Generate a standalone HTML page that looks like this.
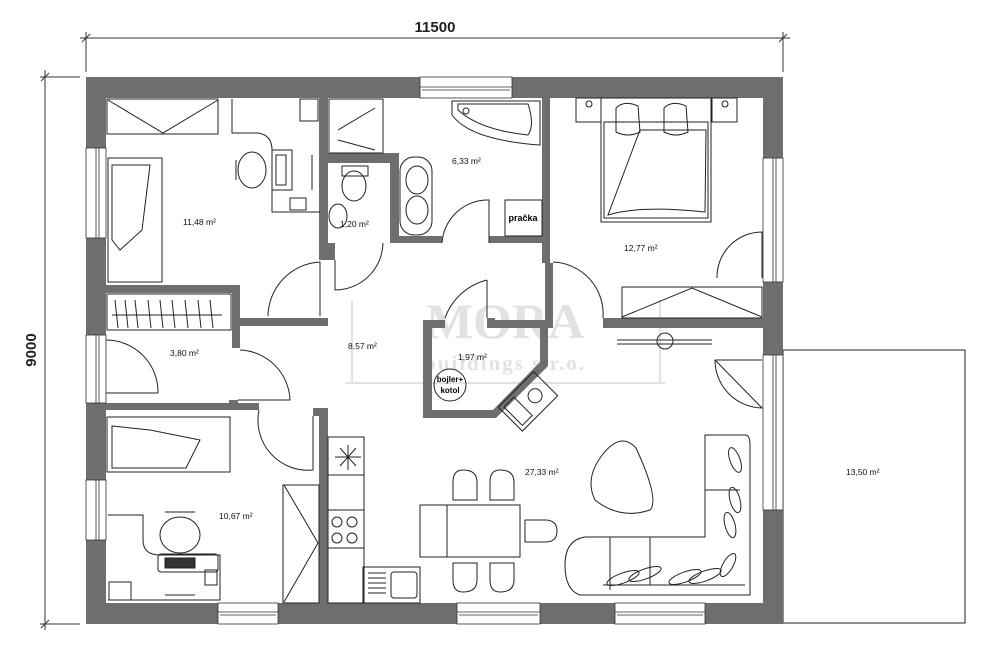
<!DOCTYPE html>
<html><head><meta charset="utf-8"><style>
html,body{margin:0;padding:0;background:#fff;}
svg{display:block;font-family:"Liberation Sans",sans-serif;}
.t{font-size:8.5px;fill:#111;}
.f{fill:none;stroke:#222;stroke-width:1;}
.w{fill:#6e6e6e;}
</style></head><body>
<svg width="1000" height="656" viewBox="0 0 1000 656">
<!-- dimensions -->
<g stroke="#333" stroke-width="1">
<line x1="80" y1="38" x2="790" y2="38"/>
<line x1="86" y1="32" x2="86" y2="72"/><line x1="783" y1="32" x2="783" y2="72"/>
<line x1="82" y1="42" x2="90" y2="34"/><line x1="779" y1="42" x2="787" y2="34"/>
<line x1="45" y1="70" x2="45" y2="630"/>
<line x1="40" y1="77" x2="80" y2="77"/><line x1="40" y1="624" x2="80" y2="624"/>
<line x1="41" y1="81" x2="49" y2="73"/><line x1="41" y1="628" x2="49" y2="620"/>
</g>
<text x="435" y="32" font-size="15" font-weight="bold" text-anchor="middle" fill="#222">11500</text>
<text transform="translate(36,350) rotate(-90)" font-size="15" font-weight="bold" text-anchor="middle" fill="#222">9000</text>
<!-- terrace -->
<rect x="783" y="350" width="182" height="273" class="f"/>
<!-- watermark -->
<g fill="#e2e2e2" stroke="#e2e2e2">
<text x="505" y="338" font-family="Liberation Serif,serif" font-size="50" font-weight="bold" text-anchor="middle" stroke="none">MORA</text>
<text x="505" y="370" font-family="Liberation Serif,serif" font-size="21" font-weight="bold" text-anchor="middle" stroke="none" letter-spacing="2">buildings s.r.o.</text>
<line x1="345" y1="383" x2="665" y2="383" fill="none" stroke-width="2"/>
<line x1="352" y1="300" x2="352" y2="383" fill="none" stroke-width="2"/>
<line x1="660" y1="300" x2="660" y2="383" fill="none" stroke-width="2"/>
</g>
<!-- outer walls -->
<g class="w">
<rect x="86" y="77" width="697" height="21"/>
<rect x="86" y="603" width="697" height="21"/>
<rect x="86" y="77" width="20" height="547"/>
<rect x="763" y="77" width="20" height="547"/>
<!-- interior -->
<rect x="319" y="98" width="9" height="162"/>
<rect x="328" y="153" width="71" height="10"/>
<rect x="390" y="153" width="9" height="90"/>
<rect x="390" y="236" width="52" height="7"/>
<rect x="489" y="236" width="61" height="7"/>
<rect x="542" y="98" width="8" height="165"/>
<rect x="319" y="243" width="16" height="17"/>
<rect x="106" y="285" width="131" height="8"/>
<rect x="232" y="285" width="8" height="63"/>
<rect x="236" y="318" width="92" height="8"/>
<rect x="319" y="318" width="9" height="8"/>
<rect x="106" y="403" width="153" height="7"/>
<rect x="229" y="400" width="9" height="10"/>
<rect x="313" y="408" width="15" height="8"/>
<rect x="319" y="408" width="9" height="195"/>
<rect x="487" y="318" width="8" height="10"/>
<rect x="487" y="320" width="61" height="8"/>
<rect x="545" y="263" width="8" height="65"/>
<rect x="603" y="318" width="160" height="10"/>
<polygon points="423,320 445,320 445,328 432,328 432,410 493,410 540,362 540,328 548,328 548,366 496,418 423,418"/>
</g>
<!-- windows -->
<g fill="#fff" stroke="#333" stroke-width="0.8">
<rect x="420" y="77" width="92" height="21"/><line x1="420" y1="87" x2="512" y2="87"/><line x1="422" y1="90" x2="510" y2="90"/>
<rect x="86" y="148" width="20" height="90"/><line x1="96" y1="148" x2="96" y2="238"/><line x1="99" y1="148" x2="99" y2="238"/>
<rect x="86" y="335" width="20" height="68"/><line x1="96" y1="335" x2="96" y2="403"/><line x1="99" y1="335" x2="99" y2="403"/>
<rect x="86" y="480" width="20" height="60"/><line x1="96" y1="480" x2="96" y2="540"/><line x1="99" y1="480" x2="99" y2="540"/>
<rect x="763" y="158" width="20" height="124"/><line x1="773" y1="158" x2="773" y2="282"/><line x1="776" y1="158" x2="776" y2="282"/>
<rect x="763" y="355" width="20" height="155"/><line x1="773" y1="355" x2="773" y2="510"/><line x1="776" y1="355" x2="776" y2="510"/>
<rect x="218" y="603" width="60" height="21"/><line x1="218" y1="612" x2="278" y2="612"/><line x1="220" y1="615" x2="276" y2="615"/>
<rect x="457" y="603" width="83" height="21"/><line x1="457" y1="612" x2="540" y2="612"/><line x1="459" y1="615" x2="538" y2="615"/>
<rect x="615" y="603" width="90" height="21"/><line x1="615" y1="612" x2="705" y2="612"/><line x1="617" y1="615" x2="703" y2="615"/>
</g>
<!-- furniture -->
<g class="f">
<!-- room 1 -->
<rect x="107" y="99" width="111" height="35"/><polyline points="108,100 163,133 218,100"/>
<rect x="108" y="158" width="54" height="124"/><path d="M112,165 L150,165 L142,230 L120,250 L112,240Z"/>
<path d="M232,99 L232,133 L258,133 Q272,135 272,150 L272,190 L272,212 L320,212"/>
<rect x="272" y="150" width="20" height="40"/><rect x="276" y="155" width="10" height="30"/>
<ellipse cx="252" cy="170" rx="14" ry="18"/><line x1="236" y1="160" x2="236" y2="180"/>
<rect x="300" y="99" width="18" height="22"/><rect x="290" y="198" width="16" height="12"/>
<line x1="312" y1="155" x2="312" y2="190"/>
<!-- closet -->
<rect x="107" y="294" width="124" height="36"/><line x1="112" y1="315" x2="222" y2="315"/>
<path d="M115,300 l3,28 M125,300 l3,28 M135,300 l3,28 M148,300 l3,28 M160,300 l3,28 M172,300 l3,28 M185,300 l3,28 M198,300 l3,28 M210,300 l3,28"/>
<!-- bathroom -->
<rect x="329" y="99" width="54" height="54"/><line x1="338" y1="130" x2="375" y2="108"/><line x1="338" y1="140" x2="375" y2="150"/>
<path d="M452,101 L540,101 L540,145 Q470,140 452,115Z"/><path d="M458,104 L528,104 Q535,125 528,135 Q480,130 458,110Z"/><circle cx="466" cy="111" r="3"/>
<rect x="400" y="157" width="32" height="78" rx="14"/><ellipse cx="417" cy="180" rx="11" ry="14"/><ellipse cx="417" cy="210" rx="11" ry="14"/>
<rect x="505" y="200" width="37" height="36"/>
<ellipse cx="354" cy="186" rx="12" ry="15"/><rect x="342" y="166" width="26" height="10"/>
<ellipse cx="338" cy="216" rx="9" ry="12"/>
<!-- bedroom -->
<rect x="576" y="98" width="25" height="24"/><rect x="712" y="98" width="25" height="24"/>
<circle cx="589" cy="104" r="3"/><circle cx="725" cy="104" r="3"/>
<rect x="601" y="98" width="110" height="124"/><rect x="604" y="122" width="104" height="96"/>
<path d="M616,108 q8,-8 22,-2 l2,26 q-12,6 -24,0Z"/><path d="M664,108 q8,-8 22,-2 l2,26 q-12,6 -24,0Z"/>
<path d="M640,130 L608,215 Q640,205 705,212 L706,130Z"/>
<rect x="622" y="287" width="140" height="31"/><polyline points="622,317 692,288 762,317"/>
<line x1="617" y1="344" x2="712" y2="344"/><line x1="617" y1="340" x2="712" y2="340"/><circle cx="665" cy="341" r="8"/>
<!-- doors -->
<path d="M268,316 A55,55 0 0 1 320,262 L320,316"/>
<path d="M335,260 L335,290 A48,48 0 0 0 383,243"/>
<path d="M442,243 A46,46 0 0 1 489,200 L489,243"/>
<path d="M487,280 L487,318 M487,280 A60,60 0 0 0 445,318"/>
<path d="M553,262 A52,52 0 0 1 603,318"/>
<path d="M717,278 A45,45 0 0 1 762,232 L762,278"/>
<path d="M715,360 A48,48 0 0 0 762,408 L715,360 M715,360 L762,360"/>
<path d="M106,340 A52,52 0 0 1 158,393 L106,393"/>
<path d="M240,350 A52,52 0 0 1 290,400 L238,400"/>
<path d="M259,410 A50,50 0 0 0 313,470 L313,416"/>
<!-- stove -->
<g transform="translate(528,400) rotate(-45)"><rect x="-26" y="-16" width="50" height="34"/><rect x="-22" y="-12" width="14" height="26"/><circle cx="8" cy="2" r="7"/></g>
<circle cx="450" cy="385" r="16"/>
<!-- room 10.67 -->
<rect x="107" y="417" width="123" height="55"/><path d="M112,426 L150,430 L200,440 L186,468 L112,468Z"/>
<path d="M108,515 L143,515 L143,540 Q143,555 160,555 L220,555 L220,600 L108,600"/>
<rect x="158" y="554" width="60" height="18" rx="3"/><rect x="165" y="558" width="30" height="10" fill="#333"/>
<ellipse cx="180" cy="535" rx="20" ry="18"/><line x1="165" y1="512" x2="195" y2="512"/>
<rect x="205" y="570" width="12" height="15"/><rect x="109" y="582" width="22" height="18"/>
<line x1="165" y1="595" x2="195" y2="595"/>
<rect x="283" y="485" width="36" height="118"/><polyline points="284,485 318,543 284,602"/>
<!-- kitchen -->
<rect x="328" y="437" width="36" height="166"/>
<line x1="328" y1="475" x2="364" y2="475"/><line x1="328" y1="510" x2="364" y2="510"/><line x1="328" y1="548" x2="364" y2="548"/>
<path d="M348,445 v25 M335,457 h26 M340,448 l16,18 M356,448 l-16,18"/>
<circle cx="337" cy="522" r="5"/><circle cx="352" cy="522" r="5"/><circle cx="337" cy="538" r="5"/><circle cx="352" cy="538" r="5"/>
<rect x="363" y="567" width="57" height="36"/><rect x="391" y="572" width="26" height="26" rx="3"/>
<path d="M368,573 h18 M368,578 h18 M368,583 h18 M368,588 h18 M368,593 h18"/>
<rect x="420" y="505" width="100" height="52"/><line x1="447" y1="505" x2="447" y2="557"/>
<path d="M453,500 L453,482 Q453,470 463,470 Q477,470 477,482 L477,500Z"/>
<path d="M490,500 L490,482 Q490,470 500,470 Q514,470 514,482 L514,500Z"/>
<path d="M453,563 L453,580 Q453,592 463,592 Q477,592 477,580 L477,563Z"/>
<path d="M490,563 L490,580 Q490,592 500,592 Q514,592 514,580 L514,563Z"/>
<path d="M525,520 L545,520 Q557,520 557,531 Q557,542 545,542 L525,542Z"/>
<!-- living -->
<path d="M600,458 Q620,430 636,448 Q660,500 650,510 Q620,520 595,500 Q585,480 600,458Z"/>
<path d="M705,435 L745,435 Q750,435 750,445 L750,595 L580,595 Q565,590 565,565 Q565,540 585,537 L705,537Z"/>
<line x1="705" y1="490" x2="740" y2="490"/><line x1="610" y1="537" x2="610" y2="590"/><line x1="650" y1="537" x2="650" y2="585"/>
<line x1="603" y1="585" x2="745" y2="585"/>
<ellipse cx="735" cy="460" rx="5" ry="13" transform="rotate(-20 735 460)"/>
<ellipse cx="735" cy="500" rx="5" ry="13" transform="rotate(-15 735 500)"/>
<ellipse cx="730" cy="525" rx="5" ry="13" transform="rotate(-15 730 525)"/>
<ellipse cx="728" cy="565" rx="5" ry="13" transform="rotate(30 728 565)"/>
<ellipse cx="623" cy="578" rx="5" ry="17" transform="rotate(70 623 578)"/>
<ellipse cx="645" cy="574" rx="5" ry="17" transform="rotate(70 645 574)"/>
<ellipse cx="685" cy="577" rx="5" ry="17" transform="rotate(70 685 577)"/>
<ellipse cx="705" cy="576" rx="5" ry="17" transform="rotate(70 705 576)"/>
</g>
<text x="450" y="382" font-size="8" font-weight="bold" text-anchor="middle">bojler+</text>
<text x="450" y="393" font-size="8" font-weight="bold" text-anchor="middle">kotol</text>
<text x="523" y="221" font-size="9" font-weight="bold" text-anchor="middle">pračka</text>
<!-- labels -->
<g class="t">
<text x="183" y="225">11,48 m²</text>
<text x="340" y="227">1,20 m²</text>
<text x="452" y="164">6,33 m²</text>
<text x="624" y="251">12,77 m²</text>
<text x="170" y="356">3,80 m²</text>
<text x="348" y="349">8,57 m²</text>
<text x="458" y="360">1,97 m²</text>
<text x="525" y="475">27,33 m²</text>
<text x="219" y="519">10,67 m²</text>
<text x="846" y="475">13,50 m²</text>
</g>
</svg>
</body></html>
